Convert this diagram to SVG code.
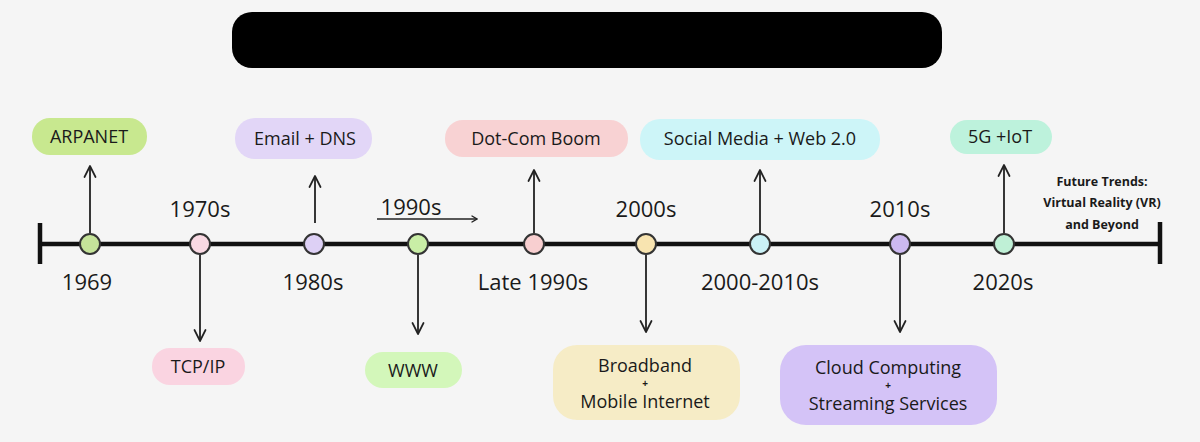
<svg xmlns="http://www.w3.org/2000/svg" width="1200" height="442" viewBox="0 0 1200 442">
<defs>
<marker id="ah" viewBox="0 0 14 14" refX="13" refY="7" markerWidth="14" markerHeight="14" markerUnits="userSpaceOnUse" orient="auto">
<path d="M2 1.5 L13 7 L2 12.5" fill="none" stroke="#222" stroke-width="1.7" stroke-linecap="round" stroke-linejoin="round"/>
</marker>
<marker id="ar" viewBox="0 0 10 10" refX="9" refY="5" markerWidth="10" markerHeight="10" markerUnits="userSpaceOnUse" orient="auto">
<path d="M4 2 L9 5 L4 8" fill="none" stroke="#222" stroke-width="1.4" stroke-linecap="round"/>
</marker>
</defs>
<style>
.lbl{font-family:"Open Sans","Liberation Sans",sans-serif;font-size:22px;fill:#1a1a1a;text-anchor:middle}
.pt{font-family:"Open Sans","Liberation Sans",sans-serif;font-size:18px;fill:#1a1a1a;text-anchor:middle}
.plus{font-family:"Open Sans","Liberation Sans",sans-serif;font-size:10px;font-weight:bold;fill:#1a1a1a;text-anchor:middle}
.ft{font-family:"Open Sans","Liberation Sans",sans-serif;font-size:12.5px;font-weight:bold;fill:#1a1a1a;text-anchor:middle}
.node{stroke:#333;stroke-width:2}
.conn{stroke:#222;stroke-width:1.8;fill:none}
</style>
<rect width="1200" height="442" fill="#f5f5f5"/>
<rect x="232" y="12" width="710" height="56" rx="20" fill="#000"/>

<g id="timeline">
<line x1="40" y1="244" x2="1160" y2="244" stroke="#111" stroke-width="4.5"/>
<line x1="40" y1="223" x2="40" y2="264" stroke="#111" stroke-width="4.5"/>
<line x1="1160" y1="222" x2="1160" y2="264" stroke="#111" stroke-width="4.5"/>
</g>

<g id="connectors">
<line class="conn" x1="90" y1="233" x2="90" y2="166" marker-end="url(#ah)"/>
<line class="conn" x1="200" y1="255" x2="200" y2="341" marker-end="url(#ah)"/>
<line class="conn" x1="315" y1="223" x2="315" y2="176" marker-end="url(#ah)"/>
<line class="conn" x1="418" y1="255" x2="418" y2="334" marker-end="url(#ah)"/>
<line class="conn" x1="534" y1="233" x2="534" y2="170" marker-end="url(#ah)"/>
<line class="conn" x1="646" y1="255" x2="646" y2="332" marker-end="url(#ah)"/>
<line class="conn" x1="760" y1="233" x2="760" y2="170" marker-end="url(#ah)"/>
<line class="conn" x1="900" y1="255" x2="900" y2="332" marker-end="url(#ah)"/>
<line class="conn" x1="1004" y1="233" x2="1004" y2="165" marker-end="url(#ah)"/>
<line x1="377" y1="219" x2="477" y2="219" stroke="#222" stroke-width="1.4" marker-end="url(#ar)"/>
</g>

<g id="n1969">
<circle class="node" cx="90" cy="244" r="10" fill="#c5e39a"/>
<text class="lbl" x="87" y="290">1969</text>
<rect x="32" y="118" width="115" height="37" rx="18" fill="#c8e88f"/>
<text class="pt" x="89" y="143">ARPANET</text>
</g>

<g id="n1970s">
<circle class="node" cx="200" cy="244" r="10" fill="#f9d9e3"/>
<text class="lbl" x="200" y="217">1970s</text>
<rect x="152" y="348" width="93" height="37" rx="18" fill="#fad4e1"/>
<text class="pt" x="198" y="373">TCP/IP</text>
</g>

<g id="n1980s">
<circle class="node" cx="314" cy="244" r="10" fill="#ddd0f5"/>
<text class="lbl" x="313" y="290">1980s</text>
<rect x="235" y="118" width="137" height="41" rx="20" fill="#e2d6f7"/>
<text class="pt" x="305" y="145">Email + DNS</text>
</g>

<g id="n1990s">
<circle class="node" cx="418" cy="244" r="10" fill="#c9eea6"/>
<text class="lbl" x="411" y="215">1990s</text>
<rect x="365" y="352" width="97" height="36" rx="18" fill="#d3f7ba"/>
<text class="pt" x="413" y="377">WWW</text>
</g>

<g id="nLate1990s">
<circle class="node" cx="534" cy="244" r="10" fill="#f8cfd0"/>
<text class="lbl" x="533" y="290">Late 1990s</text>
<rect x="445" y="120" width="183" height="37" rx="18" fill="#f8d2d3"/>
<text class="pt" x="536" y="145">Dot-Com Boom</text>
</g>

<g id="n2000s">
<circle class="node" cx="646" cy="244" r="10" fill="#f8e4b0"/>
<text class="lbl" x="646" y="217">2000s</text>
<rect x="553" y="345" width="187" height="75" rx="24" fill="#f6ecc6"/>
<text class="pt" x="645" y="372">Broadband</text>
<text class="plus" x="645" y="387">+</text>
<text class="pt" x="645" y="408">Mobile Internet</text>
</g>

<g id="n2000-2010s">
<circle class="node" cx="760" cy="244" r="10" fill="#caf1f6"/>
<text class="lbl" x="760" y="290">2000-2010s</text>
<rect x="640" y="119" width="240" height="41" rx="20" fill="#cdf5f8"/>
<text class="pt" x="760" y="145">Social Media + Web 2.0</text>
</g>

<g id="n2010s">
<circle class="node" cx="900" cy="244" r="10" fill="#ccb9f0"/>
<text class="lbl" x="900" y="217">2010s</text>
<rect x="780" y="345" width="217" height="80" rx="26" fill="#d4c3f7"/>
<text class="pt" x="888" y="374">Cloud Computing</text>
<text class="plus" x="888" y="389">+</text>
<text class="pt" x="888" y="410">Streaming Services</text>
</g>

<g id="n2020s">
<circle class="node" cx="1004" cy="244" r="10" fill="#bff0d6"/>
<text class="lbl" x="1003" y="290">2020s</text>
<rect x="950" y="120" width="102" height="34" rx="17" fill="#bdf2dc"/>
<text class="pt" x="1000" y="143">5G +IoT</text>
</g>

<g id="future">
<text class="ft" x="1102" y="186">Future Trends:</text>
<text class="ft" x="1102" y="207">Virtual Reality (VR)</text>
<text class="ft" x="1102" y="229">and Beyond</text>
</g>
</svg>
